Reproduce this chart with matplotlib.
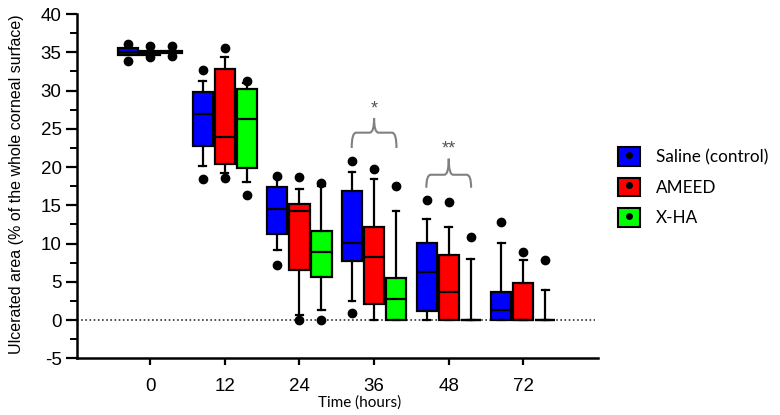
import matplotlib
matplotlib.use("Agg")
import matplotlib.pyplot as plt
from matplotlib.patches import Patch, PathPatch
from matplotlib.lines import Line2D
from matplotlib.path import Path
from matplotlib.legend_handler import HandlerTuple

plt.rcParams["font.family"] = ["Liberation Sans", "DejaVu Sans"]
plt.rcParams["axes.unicode_minus"] = False

times = ["0", "12", "24", "36", "48", "72"]
groups = ["Saline (control)", "AMEED", "X-HA"]
colors = ["#0000FF", "#FF0000", "#00FF00"]

# per group, per time: q1, median, q3, whisker low, whisker high
saline_q1 = [34.7, 22.7, 11.3, 7.7, 1.2, 0.0]
saline_med = [35.0, 27.0, 14.5, 10.1, 6.3, 1.3]
saline_q3 = [35.6, 29.8, 17.4, 16.9, 10.1, 3.7]
saline_lo = [34.7, 20.2, 9.2, 2.5, 0.0, 0.0]
saline_hi = [35.6, 31.3, 18.6, 19.3, 13.2, 10.1]
saline_out = [[36.1, 33.9], [32.7, 18.5], [18.9, 7.2], [20.8, 0.9], [15.7], [12.8]]

ameed_q1 = [34.7, 20.4, 6.6, 2.1, 0.0, 0.0]
ameed_med = [34.95, 23.9, 14.3, 8.2, 3.7, 0.0]
ameed_q3 = [35.2, 32.8, 15.2, 12.2, 8.5, 4.8]
ameed_lo = [34.7, 19.2, 0.6, 0.0, 0.0, 0.0]
ameed_hi = [35.2, 34.4, 17.1, 18.5, 12.2, 7.8]
ameed_out = [[35.8, 34.4], [35.6, 18.6], [18.7, 0.0], [19.7], [15.4], [8.9]]

xha_q1 = [34.9, 19.9, 5.6, 0.0, 0.0, 0.0]
xha_med = [35.1, 26.3, 8.9, 2.7, 0.0, 0.0]
xha_q3 = [35.2, 30.2, 11.7, 5.5, 0.0, 0.0]
xha_lo = [34.9, 18.0, 1.3, 0.0, 0.0, 0.0]
xha_hi = [35.2, 31.0, 17.5, 14.3, 8.0, 3.9]
xha_out = [[35.8, 34.5], [31.3, 16.4], [17.9, 0.0], [17.5], [10.8], [7.9]]

# significance annotations
sig_time = [3, 4]
sig_label = ["*", "**"]
sig_low = [22.5, 17.3]
sig_top = [24.5, 19.0]
sig_peak = [26.4, 21.1]
sig_text_y = [27.6, 22.4]

data = [
    (saline_q1, saline_med, saline_q3, saline_lo, saline_hi, saline_out),
    (ameed_q1, ameed_med, ameed_q3, ameed_lo, ameed_hi, ameed_out),
    (xha_q1, xha_med, xha_q3, xha_lo, xha_hi, xha_out),
]

fig = plt.figure(figsize=(7.8, 4.15), dpi=100)
ax = fig.add_axes([0.0987, 0.1366, 0.668, 0.8294])

offsets = [-0.295, 0.0, 0.295]
width = 0.27
for g, (q1, med, q3, lo, hi, out) in enumerate(data):
    stats = []
    for i in range(len(times)):
        stats.append(dict(q1=q1[i], med=med[i], q3=q3[i], whislo=lo[i],
                          whishi=hi[i], fliers=out[i]))
    pos = [i + offsets[g] for i in range(len(times))]
    ax.bxp(stats, positions=pos, widths=width, patch_artist=True,
           showfliers=True, manage_ticks=False,
           boxprops=dict(facecolor=colors[g], edgecolor="black", linewidth=1.6),
           medianprops=dict(color="black", linewidth=1.6),
           whiskerprops=dict(color="black", linewidth=1.6),
           capprops=dict(color="black", linewidth=1.6),
           capwidths=0.09,
           flierprops=dict(marker="o", markerfacecolor="black",
                           markeredgecolor="black", markersize=6),
           zorder=3)

ax.set_xlim(-0.98, 6.0)
ax.set_ylim(-5, 40)
ax.axhline(0, xmin=0, xmax=0.995, color="#333333", linestyle=(0, (1, 1.5)),
           linewidth=1.2, zorder=1)

ax.set_xticks(range(len(times)))
ax.set_xticklabels(times)
ax.set_yticks(range(-5, 41, 5))
ax.set_yticks([v + 2.5 for v in range(-5, 40, 5)], minor=True)
for sp in ["top", "right"]:
    ax.spines[sp].set_visible(False)
for sp in ["left", "bottom"]:
    ax.spines[sp].set_linewidth(1.8)
ax.tick_params(axis="y", which="major", length=8, width=1.6, labelsize=13.5, pad=3)
ax.tick_params(axis="y", which="minor", length=5, width=1.4)
ax.tick_params(axis="x", which="major", length=5, width=1.6, labelsize=13.5, pad=9)

# braces
for k in range(len(sig_time)):
    c = sig_time[k]
    x1, x2 = c - 0.30, c + 0.30
    xm = c
    r = 0.06
    lo_, top, pk = sig_low[k], sig_top[k], sig_peak[k]
    verts = [(x1, lo_), (x1, top), (x1 + r, top),
             (xm - r, top), (xm, top), (xm, pk),
             (xm, top), (xm + r, top),
             (x2 - r, top), (x2, top), (x2, lo_)]
    codes = [Path.MOVETO, Path.CURVE3, Path.CURVE3,
             Path.LINETO, Path.CURVE3, Path.CURVE3,
             Path.CURVE3, Path.CURVE3,
             Path.LINETO, Path.CURVE3, Path.CURVE3]
    ax.add_patch(PathPatch(Path(verts, codes), facecolor="none",
                           edgecolor="#808080", linewidth=1.5, zorder=2))
    ax.text(xm, sig_text_y[k], sig_label[k], ha="center", va="center",
            fontsize=13, color="#555555")

fig.text(0.021, 0.555, "Ulcerated area (% of the whole corneal surface)",
         rotation=90, ha="center", va="center", fontsize=11.5)
fig.text(0.4615, 0.03, "Time (hours)", ha="center", va="center",
         fontsize=11, family="Lato")

handles = [(Patch(facecolor=colors[g], edgecolor="black", linewidth=1.5),
            Line2D([], [], marker="o", color="black", linestyle="none",
                   markersize=4)) for g in range(3)]
fig.legend(handles, groups, handler_map={tuple: HandlerTuple(ndivide=1)},
           loc="center left", bbox_to_anchor=(0.772, 0.549), frameon=False,
           handlelength=1.3, handleheight=1.3, handletextpad=0.95,
           labelspacing=0.7, numpoints=1, prop=dict(family="Lato", size=12.3))

fig.savefig("out.png", dpi=100)
